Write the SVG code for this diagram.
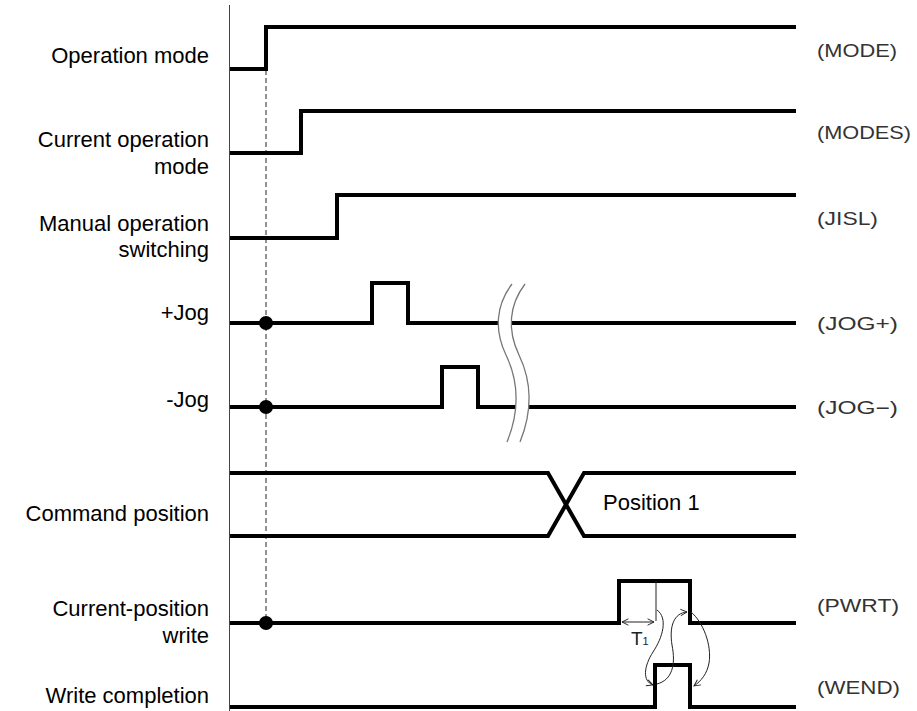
<svg xmlns="http://www.w3.org/2000/svg" width="917" height="711" viewBox="0 0 917 711">
<style>
.lbl{font-family:"Liberation Sans",Arial,sans-serif;font-size:22px;fill:#000;text-anchor:end}
.sig{font-family:"Liberation Sans",Arial,sans-serif;font-size:18px;fill:#333}
.wave{fill:none;stroke:#000;stroke-width:4;stroke-linejoin:miter;stroke-linecap:butt}
.thin{fill:none;stroke:#222;stroke-width:1}
.brk{fill:none;stroke:#777;stroke-width:1.3}
</style>
<defs>
<marker id="ah" viewBox="0 0 10 10" refX="9" refY="5" markerWidth="8" markerHeight="8" markerUnits="userSpaceOnUse" orient="auto-start-reverse">
<path d="M1,1 L9,5 L1,9" fill="none" stroke="#222" stroke-width="1.2"/>
</marker>
</defs>
<rect width="917" height="711" fill="#fff"/>
<g id="axis">
<line x1="229.5" y1="5" x2="229.5" y2="711" stroke="#444" stroke-width="1"/>
<line x1="266" y1="70" x2="266" y2="623" stroke="#222" stroke-width="1" stroke-dasharray="5,3"/>
</g>
<g id="mode">
<text class="lbl" x="209" y="63">Operation mode</text>
<path class="wave" d="M230,69 H266 V27 H796"/>
<text class="sig" x="817" y="57" textLength="80" lengthAdjust="spacingAndGlyphs">(MODE)</text>
</g>
<g id="modes">
<text class="lbl" x="209" y="147">Current operation</text>
<text class="lbl" x="209" y="174">mode</text>
<path class="wave" d="M230,153 H301 V111 H796"/>
<text class="sig" x="817" y="139" textLength="94" lengthAdjust="spacingAndGlyphs">(MODES)</text>
</g>
<g id="jisl">
<text class="lbl" x="209" y="231">Manual operation</text>
<text class="lbl" x="209" y="257">switching</text>
<path class="wave" d="M230,238 H337 V195 H796"/>
<text class="sig" x="817" y="225" textLength="61" lengthAdjust="spacingAndGlyphs">(JISL)</text>
</g>
<g id="jogp">
<text class="lbl" x="209" y="320">+Jog</text>
<path class="wave" d="M230,323 H372 V283 H408 V323 H796"/>
<circle cx="266" cy="323" r="7" fill="#000"/>
<text class="sig" x="817" y="330" textLength="81" lengthAdjust="spacingAndGlyphs">(JOG+)</text>
</g>
<g id="jogm">
<text class="lbl" x="209" y="407">-Jog</text>
<path class="wave" d="M230,407 H442 V367 H478 V407 H796"/>
<circle cx="266" cy="407" r="7" fill="#000"/>
<text class="sig" x="817" y="414" textLength="81" lengthAdjust="spacingAndGlyphs">(JOG−)</text>
</g>
<g id="break">
<path d="M512,284 C496,305 494,330 506,355 C518,380 520,410 507,442 L520,442 C533,410 531,380 519,355 C507,330 509,305 525,284 Z" fill="#fff" stroke="none"/>
<path class="brk" d="M512,284 C496,305 494,330 506,355 C518,380 520,410 507,442"/>
<path class="brk" d="M525,284 C509,305 507,330 519,355 C531,380 533,410 520,442"/>
</g>
<g id="cmdpos">
<text class="lbl" x="209" y="521">Command position</text>
<path class="wave" d="M230,473 H548 L584,536 H796"/>
<path class="wave" d="M230,536 H548 L584,473 H796"/>
<text x="603" y="510" font-family="Liberation Sans,Arial,sans-serif" font-size="22" fill="#000">Position 1</text>
</g>
<g id="pwrt">
<text class="lbl" x="209" y="616">Current-position</text>
<text class="lbl" x="209" y="643">write</text>
<path class="wave" d="M230,623 H619 V581 H690 V623 H796"/>
<circle cx="266" cy="623" r="7" fill="#000"/>
<text class="sig" x="817" y="612" textLength="82" lengthAdjust="spacingAndGlyphs">(PWRT)</text>
</g>
<g id="wend">
<text class="lbl" x="209" y="703">Write completion</text>
<path class="wave" d="M230,707 H655 V665 H690 V707 H796"/>
<text class="sig" x="817" y="694" textLength="83" lengthAdjust="spacingAndGlyphs">(WEND)</text>
</g>
<g id="connectors">
<line class="thin" x1="656" y1="581" x2="656" y2="621"/>
<line class="thin" x1="622" y1="622" x2="654" y2="622" marker-start="url(#ah)" marker-end="url(#ah)"/>
<text x="631" y="645" font-family="Liberation Sans,Arial,sans-serif" font-size="19" fill="#222">T<tspan font-size="11">1</tspan></text>
<path class="thin" d="M657,610 C668,618 663,637 653,652 C644,666 642,681 653,685" marker-end="url(#ah)"/>
<path class="thin" d="M657,684 C672,680 676,665 672,645 C669,626 674,613 687,612" marker-end="url(#ah)"/>
<path class="thin" d="M691,612 C703,622 712,645 709,663 C707,674 701,681 694,686" marker-end="url(#ah)"/>
</g>
</svg>
